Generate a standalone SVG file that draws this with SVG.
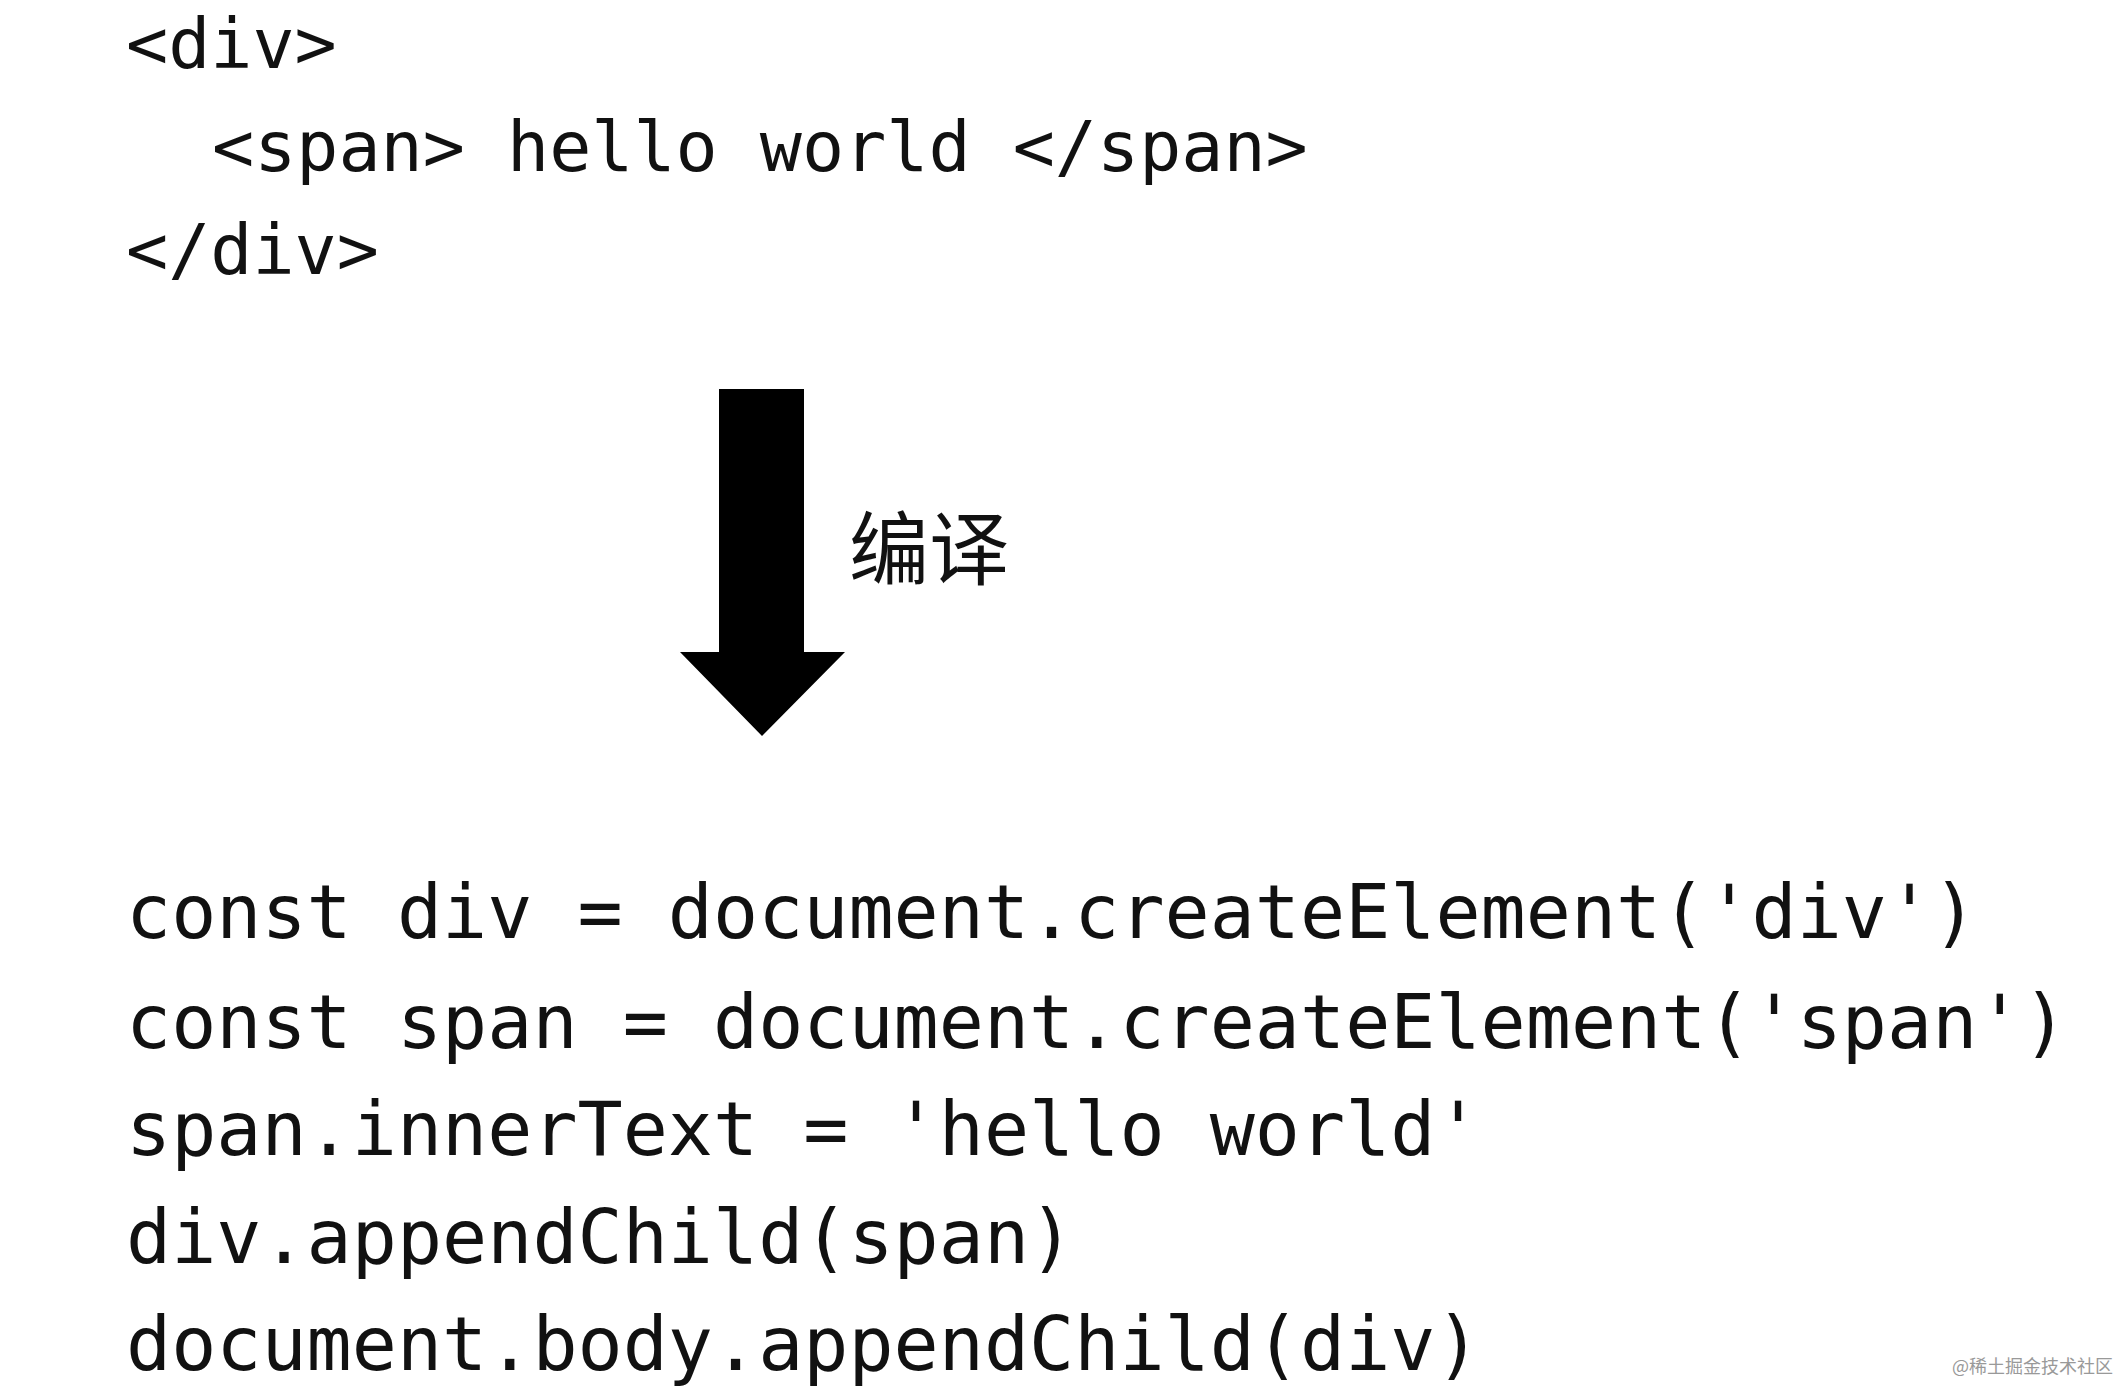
<svg xmlns="http://www.w3.org/2000/svg" width="2126" height="1398" viewBox="0 0 2126 1398">
<style>
.top{font-family:"DejaVu Sans Mono","Liberation Mono",monospace;font-size:70px;fill:#111}
.code{font-family:"DejaVu Sans Mono","Liberation Mono",monospace;font-size:75px;fill:#111}
.lbl{font-family:"Noto Sans CJK SC",sans-serif;font-size:80px;fill:#111}
.wm{font-family:"Noto Sans CJK SC",sans-serif;font-size:18px;fill:#999}
</style>
<rect width="2126" height="1398" fill="#fff"/>
<g id="html">
<text class="top" x="126" y="68">&lt;div&gt;</text>
<text class="top" x="212" y="171">&lt;span&gt; hello world &lt;/span&gt;</text>
<text class="top" x="126" y="274">&lt;/div&gt;</text>
</g>
<g id="connectors">
<polygon points="719,389 804,389 804,652 845,652 762,736 680,652 719,652" fill="#000"/>
<text class="lbl" x="849" y="578">编译</text>
</g>
<g id="js">
<text class="code" x="126" y="938">const div = document.createElement('div')</text>
<text class="code" x="126" y="1048">const span = document.createElement('span')</text>
<text class="code" x="126" y="1155">span.innerText = 'hello world'</text>
<text class="code" x="126" y="1263">div.appendChild(span)</text>
<text class="code" x="126" y="1370">document.body.appendChild(div)</text>
</g>
<text class="wm" x="1952" y="1373">@稀土掘金技术社区</text>
</svg>
